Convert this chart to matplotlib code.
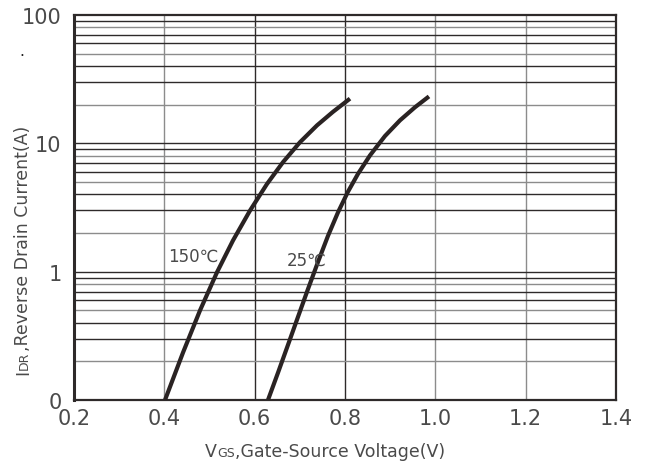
import numpy as np
import matplotlib
matplotlib.use("Agg")
import matplotlib.pyplot as plt

# Reverse drain current vs gate-source voltage, two junction temperatures
vgs_150 = [0.4015, 0.4413, 0.4789, 0.5166, 0.5520, 0.5896, 0.6272, 0.6627,
           0.7003, 0.7380, 0.7734, 0.8110]
idr_150 = [0.10, 0.234, 0.498, 0.989, 1.75, 2.99, 4.82, 7.13,
           10.2, 13.8, 17.6, 22.3]

vgs_25 = [0.6295, 0.6516, 0.6738, 0.6959, 0.7180, 0.7402, 0.7623, 0.7845,
          0.8066, 0.8287, 0.8553, 0.8885, 0.9217, 0.9549, 0.9859]
idr_25 = [0.10, 0.163, 0.269, 0.444, 0.731, 1.19, 1.90, 2.90,
          4.20, 5.78, 8.05, 11.4, 15.1, 19.1, 23.2]

curve_labels = ["150℃", "25℃"]
label_pos = [(0.408, 1.21), (0.672, 1.13)]

x_ticks = [0.2, 0.4, 0.6, 0.8, 1.0, 1.2, 1.4]
x_tick_labels = ["0.2", "0.4", "0.6", "0.8", "1.0", "1.2", "1.4"]
y_ticks = [0.1, 1, 10, 100]
y_tick_labels = ["0", "1", "10", "100"]

TXT = "#4a4a4a"
DARK = "#2e2a2a"
GRAY = "#8c8c8c"
CURVE = "#2a2323"

fig = plt.figure(figsize=(6.51, 4.64), dpi=100)
ax = fig.add_axes([74 / 651, 1 - 401 / 464, 542 / 651, 385 / 464])
ax.set_xlim(0.2, 1.4)
ax.set_yscale("log")
ax.set_ylim(0.1, 100)

# Vertical grid
vcolors = {0.4: GRAY, 0.6: DARK, 0.8: DARK, 1.0: GRAY, 1.2: GRAY}
for xv, c in vcolors.items():
    ax.axvline(xv, color=c, lw=1.0, zorder=1)

# Horizontal log grid (1..9 within each decade)
mult_colors = {1: DARK, 2: GRAY, 3: DARK, 4: DARK, 5: GRAY, 6: DARK, 7: DARK, 8: GRAY, 9: DARK}
for dec in [0.1, 1, 10]:
    for m in range(1, 10):
        yv = dec * m
        if yv <= 0.1:
            continue
        ax.axhline(yv, color=mult_colors[m], lw=1.0, zorder=1)

ax.plot(vgs_150, idr_150, color=CURVE, lw=3.0, solid_capstyle="butt",
        solid_joinstyle="round", zorder=3)
ax.plot(vgs_25, idr_25, color=CURVE, lw=3.0, solid_capstyle="butt",
        solid_joinstyle="round", zorder=3)

for lab, (xv, yv) in zip(curve_labels, label_pos):
    ax.text(xv, yv, lab, fontsize=12, color=TXT, ha="left", va="baseline", zorder=4)

ax.set_xticks(x_ticks)
ax.set_xticklabels(x_tick_labels)
ax.set_yticks(y_ticks)
ax.set_yticklabels(y_tick_labels)
ax.yaxis.set_minor_locator(matplotlib.ticker.NullLocator())
ax.tick_params(axis="both", length=0, labelsize=15, labelcolor=TXT)
ax.tick_params(axis="x", pad=6)
ax.tick_params(axis="y", pad=9)

for side in ["left", "right", "top", "bottom"]:
    ax.spines[side].set_color(DARK)
    ax.spines[side].set_linewidth(1.6)
ax.spines["left"].set_linewidth(2.2)

renderer = fig.canvas.get_renderer()


def text_width(s, size):
    t = fig.text(0, 0, s, fontsize=size)
    w = t.get_window_extent(renderer).width
    t.remove()
    return w


def chain_text(x0, y0, parts, rotation=0):
    """Place text runs of varying size one after another, in pixels."""
    x, y = x0, y0
    W, H = fig.bbox.width, fig.bbox.height
    for s, size in parts:
        fig.text(x / W, y / H, s, fontsize=size, color=TXT, rotation=rotation,
                 rotation_mode="anchor", ha="left", va="baseline")
        w = text_width(s, size)
        if rotation == 90:
            y += w
        else:
            x += w


# Axis titles with small-caps style subscripts
chain_text(205, 464 - 457, [("V", 12.5), ("GS", 9), (",Gate-Source Voltage(V)", 12.5)])
chain_text(28, 464 - 375, [("I", 12.5), ("DR", 9), (",Reverse Drain Current(A)", 12.5)], rotation=90)

fig.text(22 / 651, 1 - 56 / 464, ".", fontsize=11, color="#222222", ha="center", va="baseline")

fig.savefig("out.png", dpi=100)
